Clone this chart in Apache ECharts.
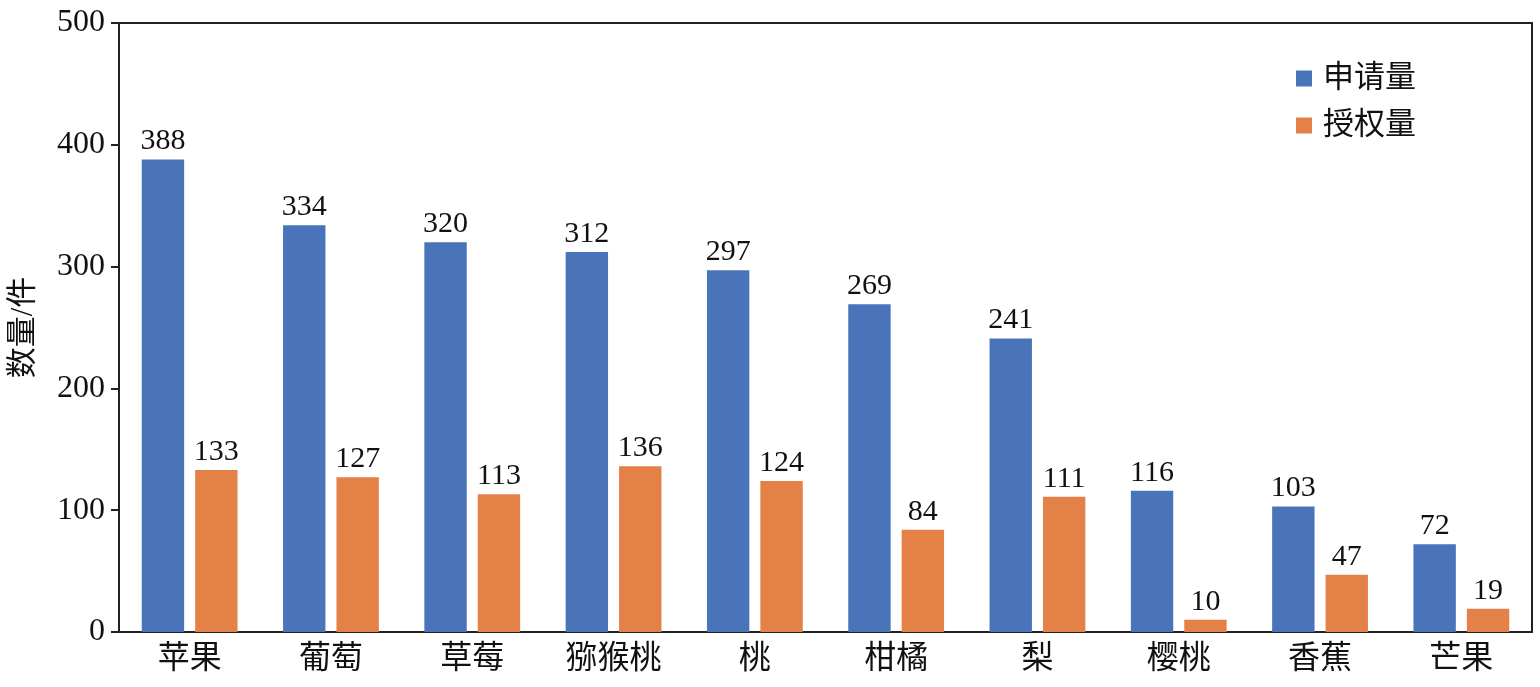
<!DOCTYPE html>
<html>
<head>
<meta charset="utf-8">
<script src="https://cdn.jsdelivr.net/npm/echarts@6/dist/echarts.min.js"></script>
<style>
  html, body { margin: 0; padding: 0; background: #fff; }
  #chart { width: 1540px; height: 687px; }
</style>
</head>
<body>
<div id="chart"></div>
<script>
  const categories = ['苹果', '葡萄', '草莓', '猕猴桃', '桃', '柑橘', '梨', '樱桃', '香蕉', '芒果']
  const applyData = [388, 334, 320, 312, 297, 269, 241, 116, 103, 72]
  const grantData = [133, 127, 113, 136, 124, 84, 111, 10, 47, 19]
  const yTicks = [0, 100, 200, 300, 400, 500]

  const font = '"Liberation Serif", "Times New Roman", "Noto Sans CJK SC", serif'
  const myChart = echarts.init(document.getElementById('chart'))

  const labelStyle = {
    show: true,
    position: 'top',
    distance: 3,
    color: '#111',
    fontFamily: font,
    fontSize: 30,
  }

  const option = {
    animation: false,
    textStyle: { fontFamily: font },
    grid: {
      left: 118,
      right: 8,
      top: 23,
      bottom: 55,
      show: true,
      borderColor: '#222',
      borderWidth: 2,
    },
    legend: {
      orient: 'vertical',
      left: 1291,
      top: 58,
      itemWidth: 16,
      itemHeight: 16,
      itemGap: 16,
      icon: 'rect',
      textStyle: { fontFamily: font, fontSize: 31, color: '#111', padding: [0, 0, 0, 6] },
      data: ['申请量', '授权量'],
    },
    xAxis: {
      type: 'category',
      data: categories,
      axisLine: { lineStyle: { color: '#222', width: 2 } },
      axisTick: { show: false },
      axisLabel: { color: '#111', fontSize: 32, fontFamily: font, margin: 12 },
    },
    yAxis: {
      type: 'value',
      min: yTicks[0],
      max: yTicks[yTicks.length - 1],
      interval: 100,
      name: '数量/件',
      nameLocation: 'middle',
      nameRotate: 90,
      nameGap: 80,
      nameTextStyle: { fontSize: 31, color: '#111', fontFamily: font },
      axisLine: { show: true, lineStyle: { color: '#222', width: 2 } },
      axisTick: { show: true, inside: false, length: 8, lineStyle: { color: '#222', width: 2 } },
      axisLabel: { color: '#111', fontSize: 32, fontFamily: font, margin: 14 },
      splitLine: { show: false },
    },
    series: [
      {
        name: '申请量',
        type: 'bar',
        data: applyData,
        barWidth: '30%',
        barGap: '26%',
        itemStyle: { color: '#4a74b9' },
        label: labelStyle,
      },
      {
        name: '授权量',
        type: 'bar',
        data: grantData,
        barWidth: '30%',
        itemStyle: { color: '#e38147' },
        label: labelStyle,
      },
    ],
  }

  myChart.setOption(option)
</script>
</body>
</html>
